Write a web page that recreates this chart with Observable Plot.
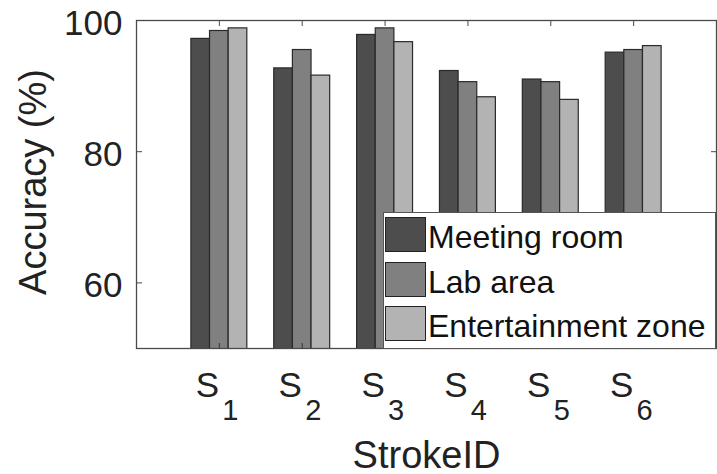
<!DOCTYPE html>
<html><head><meta charset="utf-8">
<script src="https://cdn.jsdelivr.net/npm/d3@7"></script>
<script src="https://cdn.jsdelivr.net/npm/@observablehq/plot@0.6"></script>
<style>
body{margin:0;background:#fff;font-family:"Liberation Sans",Arial,Helvetica,sans-serif;}
#wrap{position:relative;width:717px;height:474px;}
#legend{position:absolute;left:383px;top:212px;width:333px;height:137px;background:#fff;border:1px solid #555;box-sizing:border-box;}
.item{position:absolute;left:1px;height:35px;display:flex;align-items:center;white-space:nowrap;}
.sw{width:41px;height:35px;border:1.5px solid #222;box-sizing:border-box;flex:none;}
.lab{font-size:32px;color:#111;margin-left:2px;position:relative;top:3px;}
</style></head>
<body><div id="wrap"><div id="legend"></div></div>
<script>
const groups = ["S1","S2","S3","S4","S5","S6"];
const seriesNames = ["Meeting room","Lab area","Entertainment zone"];
const meetingRoom = [97.2, 92.7, 97.8, 92.3, 91.0, 95.1];
const labArea = [98.4, 95.5, 98.8, 90.6, 90.6, 95.5];
const entertainmentZone = [98.8, 91.6, 96.7, 88.3, 87.9, 96.1];
const seriesColors = ["#4d4d4d","#808080","#b3b3b3"];
const yTicks = [60, 80, 100];
const yDomain = [50, 100];

const seriesValues = [meetingRoom, labArea, entertainmentZone];
const rows = groups.flatMap((g, i) => seriesNames.map((s, j) => ({group: g, series: s, value: seriesValues[j][i]})));

const W = 717, H = 474, mL = 136, mR = 1, mT = 20, mB = 126;
const pIn = 0.325, pOut = 0.6625;
const band = d3.scaleBand(groups, [mL, W - mR]).paddingInner(pIn).paddingOuter(pOut).bandwidth();
const bw = band / seriesNames.length;
const font = '"Liberation Sans", Arial, Helvetica, sans-serif';

const chart = Plot.plot({
  width: W, height: H,
  marginLeft: mL, marginRight: mR, marginTop: mT, marginBottom: mB,
  style: {fontFamily: font, color: "#222", background: "white", overflow: "visible"},
  x: {domain: groups, paddingInner: pIn, paddingOuter: pOut, round: false, label: null},
  y: {domain: yDomain, label: null},
  marks: [
    ...seriesNames.map((s, j) => Plot.barY(rows.filter(r => r.series === s), {
      x: "group", y: "value", fill: seriesColors[j], stroke: "#2a2a2a", strokeWidth: 1.2,
      insetLeft: j * bw, insetRight: (seriesNames.length - 1 - j) * bw, clip: true
    })),
    Plot.frame({stroke: "#4a4a4a", strokeWidth: 1.3}),
    Plot.axisY({ticks: yTicks, tickSize: 0, tickPadding: 14, fontSize: 35, dy: 3, label: null}),
    Plot.axisY({ticks: yTicks, tickSize: -6, tickFormat: () => "", stroke: "#4a4a4a", label: null}),
    Plot.axisY({anchor: "right", ticks: yTicks, tickSize: -6, tickFormat: () => "", stroke: "#4a4a4a", label: null}),
    Plot.axisX({anchor: "top", tickSize: -5, tickFormat: () => "", stroke: "#4a4a4a", label: null}),
    Plot.axisX({anchor: "bottom", tickSize: -5, tickFormat: () => "", stroke: "#333", label: null}),
    Plot.axisX({tickSize: 0, tickPadding: 24, fontSize: 35, tickFormat: g => g[0], dx: -12, label: null}),
    Plot.axisX({tickSize: 0, tickPadding: 51, fontSize: 29, tickFormat: g => g.slice(1), dx: 11, label: null}),
    Plot.text(["StrokeID"], {frameAnchor: "bottom", textAnchor: "middle", lineAnchor: "bottom", dy: 119, fontSize: 38, fill: "#222"}),
    Plot.text(["Accuracy (%)"], {frameAnchor: "left", textAnchor: "middle", lineAnchor: "middle", rotate: -90, dx: -103, dy: -2.5, fontSize: 38, fill: "#222"})
  ]
});
document.getElementById("wrap").prepend(chart);

const legend = document.getElementById("legend");
seriesNames.forEach((s, j) => {
  const item = document.createElement("div");
  item.className = "item";
  item.style.top = (4 + j * 44.7) + "px";
  const sw = document.createElement("div");
  sw.className = "sw";
  sw.style.background = seriesColors[j];
  const lab = document.createElement("span");
  lab.className = "lab";
  lab.textContent = s;
  item.append(sw, lab);
  legend.append(item);
});
</script>
</body></html>
